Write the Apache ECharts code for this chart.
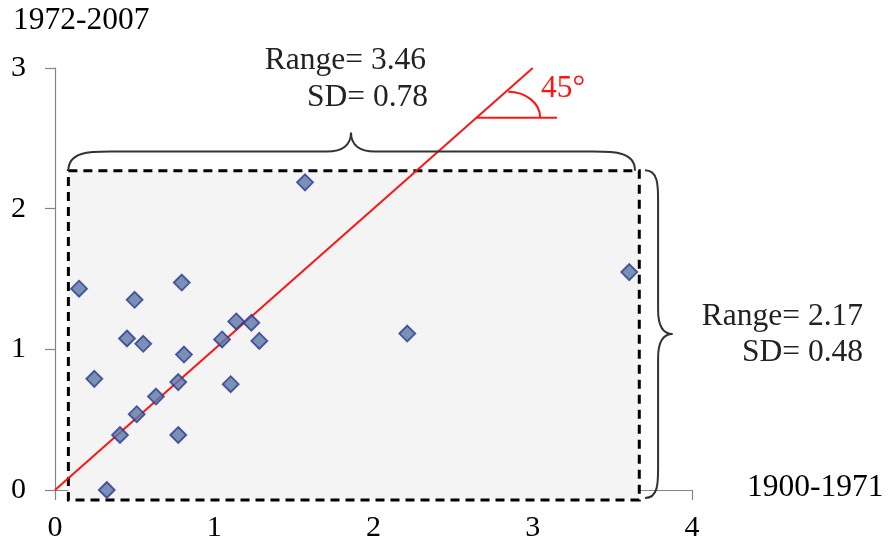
<!DOCTYPE html>
<html>
<head>
<meta charset="utf-8">
<script src="https://cdn.jsdelivr.net/npm/echarts@6/dist/echarts.min.js"></script>
<style>
  html, body { margin: 0; padding: 0; background: #fff; }
  #main { width: 888px; height: 543px; }
</style>
</head>
<body>
<div id="main"></div>
<script>
// scatter values: x = 1900-1971, y = 1972-2007
const xVals = [0.151, 0.796, 0.500, 0.452, 0.554, 0.810, 0.247, 0.774, 0.634, 0.513, 0.408,
               0.774, 0.325, 1.049, 1.138, 1.233, 1.283, 1.103, 1.570, 2.212, 3.606];
const yVals = [1.431, 1.475, 1.352, 1.077, 1.039, 0.963, 0.790, 0.767, 0.664, 0.539, 0.391,
               0.391, 0.000, 1.070, 1.198, 1.189, 1.060, 0.752, 2.187, 1.112, 1.549];
const xTicks = [0, 1, 2, 3, 4];
const yTicks = [0, 1, 2, 3];
const diagonal = [[0, 0], [3, 3]];

// box around the points (data units)
const boxX = [0.084, 3.669];
const boxY = [-0.071, 2.27];

const serif = "'Liberation Serif', 'Times New Roman', serif";
const textFont = '31.5px ' + serif;

let points = xVals.map(function (x, i) { return [x, yVals[i]]; });

// build a curly brace in pixel space; u runs along the brace, v across it
function bracePath(a, b, vb, vl, vt, ut, r1, r2, vertical) {
    let p = function (u, v) { return vertical ? [v, u] : [u, v]; };
    let pts = [
        ['M', p(a, vb)],
        ['C', p(a, vl), p(a + r1 * 0.5, vl), p(a + r1, vl)],
        ['L', p(ut - r2, vl)],
        ['C', p(ut - r2 * 0.35, vl), p(ut, vl + (vt - vl) * 0.35), p(ut, vt)],
        ['C', p(ut, vl + (vt - vl) * 0.35), p(ut + r2 * 0.35, vl), p(ut + r2, vl)],
        ['L', p(b - r1, vl)],
        ['C', p(b - r1 * 0.5, vl), p(b, vl), p(b, vb)]
    ];
    return pts.map(function (seg) {
        return seg[0] + seg.slice(1).map(function (q) { return q[0].toFixed(1) + ' ' + q[1].toFixed(1); }).join(' ');
    }).join(' ');
}

let myChart = echarts.init(document.getElementById('main'));

let option = {
    backgroundColor: '#fff',
    animation: false,
    grid: { left: 55, right: 196, top: 68, bottom: 53, containLabel: false },
    xAxis: {
        type: 'value', min: xTicks[0], max: xTicks[xTicks.length - 1], interval: 1,
        splitLine: { show: false },
        axisLine: { lineStyle: { color: '#858585', width: 1.2 } },
        axisTick: { length: 10, lineStyle: { color: '#858585', width: 1.2 } },
        axisLabel: { margin: 23, fontSize: 30, color: '#000', fontFamily: serif }
    },
    yAxis: {
        type: 'value', min: yTicks[0], max: yTicks[yTicks.length - 1], interval: 1,
        splitLine: { show: false },
        axisLine: { lineStyle: { color: '#858585', width: 1.2 } },
        axisTick: { length: 10, lineStyle: { color: '#858585', width: 1.2 } },
        axisLabel: { margin: 29, fontSize: 30, color: '#000', fontFamily: serif }
    },
    series: [
        {
            // dashed box
            type: 'custom',
            z: 1,
            clip: false,
            silent: true,
            data: [[boxX[0], boxY[0], boxX[1], boxY[1]]],
            encode: { x: [0, 2], y: [1, 3] },
            renderItem: function (params, api) {
                let p0 = api.coord([api.value(0), api.value(3)]);
                let p1 = api.coord([api.value(2), api.value(1)]);
                return {
                    type: 'rect',
                    shape: { x: p0[0], y: p0[1], width: p1[0] - p0[0], height: p1[1] - p0[1] },
                    style: { fill: '#f4f4f4', stroke: '#000', lineWidth: 3, lineDash: [9, 6] }
                };
            }
        },
        {
            type: 'line',
            z: 3,
            data: diagonal,
            symbol: 'none',
            lineStyle: { color: '#ff1414', width: 2 },
            silent: true
        },
        {
            type: 'scatter',
            z: 5,
            data: points,
            symbol: 'diamond',
            symbolSize: 16,
            itemStyle: { color: '#5a78a6', borderColor: '#2c378f', borderWidth: 1.8 }
        },
        {
            // braces and the 45 degree marker
            type: 'custom',
            z: 4,
            clip: false,
            silent: true,
            data: [[0, 0]],
            renderItem: function (params, api) {
                // top brace
                let tl = api.coord([boxX[0], boxY[1]]);
                let tr = api.coord([3.642, boxY[1]]);
                let tLine = api.coord([0, 2.406])[1];
                let tip = api.coord([1.859, 2.541]);
                let top = bracePath(tl[0], tr[0], tl[1], tLine, tip[1], tip[0], 42, 24, false);
                // right brace
                let rt = api.coord([3.705, 2.273]);
                let rb = api.coord([3.705, -0.057]);
                let rLine = api.coord([3.787, 0])[0];
                let rtip = api.coord([3.879, 1.110]);
                let right = bracePath(rt[1], rb[1], rt[0], rLine, rtip[0], rtip[1], 30, 24, true);
                // 45 degree marker
                let h0 = api.coord([2.646, 2.646]);
                let h1 = api.coord([3.152, 2.646]);
                let c = api.coord([2.846, 2.646]);
                let rx = api.coord([3.047, 2.646])[0] - c[0];
                let ry = c[1] - api.coord([2.846, 2.831])[1];
                let k = 0.552;
                let arc = 'M' + (c[0] + rx) + ' ' + c[1] +
                    ' C' + (c[0] + rx) + ' ' + (c[1] - ry * k) + ' ' + (c[0] + rx * k) + ' ' + (c[1] - ry) +
                    ' ' + c[0] + ' ' + (c[1] - ry);
                return {
                    type: 'group',
                    children: [
                        { type: 'path', shape: { pathData: top }, style: { fill: null, stroke: '#333', lineWidth: 2 } },
                        { type: 'path', shape: { pathData: right }, style: { fill: null, stroke: '#333', lineWidth: 2 } },
                        { type: 'line', shape: { x1: h0[0], y1: h0[1], x2: h1[0], y2: h1[1] }, style: { stroke: '#ff1414', lineWidth: 2 } },
                        { type: 'path', shape: { pathData: arc }, style: { fill: null, stroke: '#ff1414', lineWidth: 2 } }
                    ]
                };
            }
        }
    ],
    graphic: [
        { type: 'text', x: 13, y: 21, style: { text: '1972-2007', font: textFont, fill: '#000', align: 'left', verticalAlign: 'middle' } },
        { type: 'text', x: 747, y: 488, style: { text: '1900-1971', font: textFont, fill: '#000', align: 'left', verticalAlign: 'middle' } },
        { type: 'text', x: 426, y: 61, style: { text: 'Range= 3.46', font: textFont, fill: '#222', align: 'right', verticalAlign: 'middle' } },
        { type: 'text', x: 428, y: 98, style: { text: 'SD= 0.78', font: textFont, fill: '#222', align: 'right', verticalAlign: 'middle' } },
        { type: 'text', x: 863, y: 317, style: { text: 'Range= 2.17', font: textFont, fill: '#222', align: 'right', verticalAlign: 'middle' } },
        { type: 'text', x: 863, y: 353, style: { text: 'SD= 0.48', font: textFont, fill: '#222', align: 'right', verticalAlign: 'middle' } },
        { type: 'text', x: 541, y: 89, style: { text: '45°', font: textFont, fill: '#ff1414', align: 'left', verticalAlign: 'middle' } }
    ]
};

myChart.setOption(option);
</script>
</body>
</html>
